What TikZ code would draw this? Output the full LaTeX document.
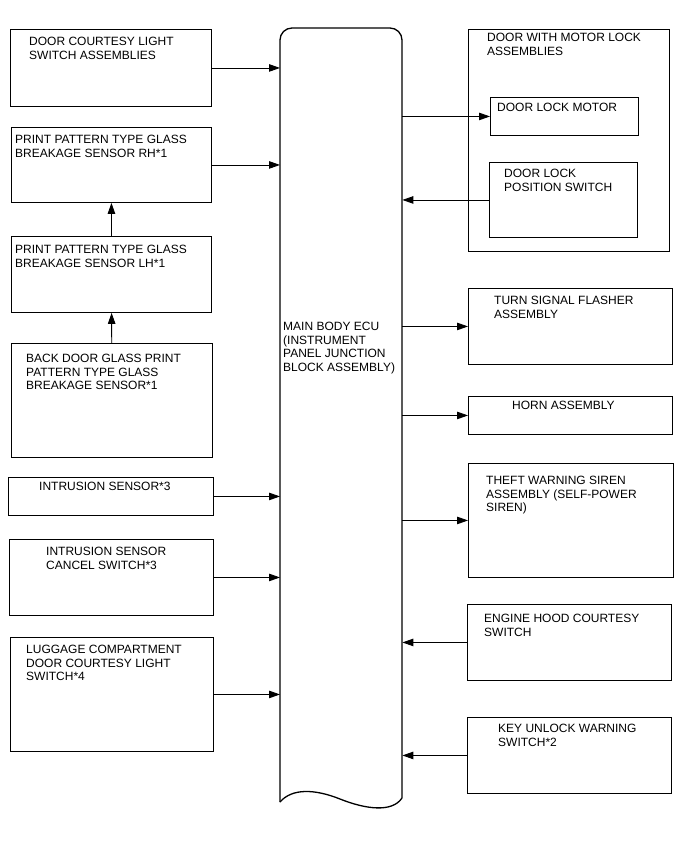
\documentclass[tikz,border=0pt]{standalone}
\usepackage{fontspec}
\setmainfont{Liberation Sans}
\usetikzlibrary{arrows.meta}

\begin{document}
\begin{tikzpicture}[
    x=1pt, y=-1pt,
    unit/.style={
        draw,
        line width=0.9pt,
        rectangle,
        anchor=north west,
        inner sep=0pt
    },
    caption/.style={
        anchor=north west,
        inner sep=0pt,
        align=left,
        font=\fontsize{12}{13.5}\selectfont
    },
    link/.style={
        -{Triangle[length=11pt,width=7.5pt]},
        line width=0.9pt
    }
]

    \useasboundingbox (0,0) rectangle (688,852);

    % left column
    \node[unit, minimum width=201, minimum height=77] (dcl) at (10,29) {};
    \node[caption] at (29,37) {DOOR COURTESY LIGHT\\SWITCH ASSEMBLIES};

    \node[unit, minimum width=200, minimum height=75] (rh) at (11,127) {};
    \node[caption] at (15,135) {PRINT PATTERN TYPE GLASS\\BREAKAGE SENSOR RH*1};

    \node[unit, minimum width=200, minimum height=76] (lh) at (11,236) {};
    \node[caption] at (15,245) {PRINT PATTERN TYPE GLASS\\BREAKAGE SENSOR LH*1};

    \node[unit, minimum width=201, minimum height=114] (back) at (11,343) {};
    \node[caption] at (26,354) {BACK DOOR GLASS PRINT\\PATTERN TYPE GLASS\\BREAKAGE SENSOR*1};

    \node[unit, minimum width=205, minimum height=38] (intr) at (8,477) {};
    \node[caption] at (39,482) {INTRUSION SENSOR*3};

    \node[unit, minimum width=204, minimum height=76] (cancel) at (9,539) {};
    \node[caption] at (46,547) {INTRUSION SENSOR\\CANCEL SWITCH*3};

    \node[unit, minimum width=203, minimum height=114] (lug) at (10,637) {};
    \node[caption] at (26,645) {LUGGAGE COMPARTMENT\\DOOR COURTESY LIGHT\\SWITCH*4};

    % main body ECU
    \node[minimum width=122, minimum height=773, inner sep=0pt, anchor=north west] (ecu) at (280,28) {};
    \draw[line width=1.3pt, rounded corners=12pt] (280,802) -- (280,28) -- (402,28) -- (402,798);
    \draw[line width=1.3pt] (280,802) .. controls (292,788) and (315,789) .. (340,799)
        .. controls (365,809) and (392,813) .. (402,798);
    \node[caption] at (283,322) {MAIN BODY ECU\\(INSTRUMENT\\PANEL JUNCTION\\BLOCK ASSEMBLY)};

    % right column
    \node[unit, minimum width=201, minimum height=222] (dwm) at (468,29) {};
    \node[caption] at (487,33) {DOOR WITH MOTOR LOCK\\ASSEMBLIES};

    \node[unit, minimum width=148, minimum height=38] (motor) at (490,97) {};
    \node[caption] at (497,103) {DOOR LOCK MOTOR};

    \node[unit, minimum width=148, minimum height=75] (pos) at (489,162) {};
    \node[caption] at (504,169) {DOOR LOCK\\POSITION SWITCH};

    \node[unit, minimum width=204, minimum height=76] (turn) at (468,288) {};
    \node[caption] at (494,296) {TURN SIGNAL FLASHER\\ASSEMBLY};

    \node[unit, minimum width=204, minimum height=38] (horn) at (468,396) {};
    \node[caption] at (512,401) {HORN ASSEMBLY};

    \node[unit, minimum width=205, minimum height=114] (theft) at (468,463) {};
    \node[caption] at (486,476) {THEFT WARNING SIREN\\ASSEMBLY (SELF-POWER\\SIREN)};

    \node[unit, minimum width=204, minimum height=76] (hood) at (467,604) {};
    \node[caption] at (484,614) {ENGINE HOOD COURTESY\\SWITCH};

    \node[unit, minimum width=204, minimum height=76] (key) at (467,717) {};
    \node[caption] at (498,724) {KEY UNLOCK WARNING\\SWITCH*2};

    % connections
    \draw[link] (lh) -- (rh);
    \draw[link] (back) -- (lh);

    \draw[link] (dcl.east) -- (dcl.east -| ecu.west);
    \draw[link] (rh.east) -- (rh.east -| ecu.west);
    \draw[link] (intr.east) -- (intr.east -| ecu.west);
    \draw[link] (cancel.east) -- (cancel.east -| ecu.west);
    \draw[link] (lug.east) -- (lug.east -| ecu.west);

    \draw[link] (motor.west -| ecu.east) -- (motor.west);
    \draw[link] (pos.west) -- (pos.west -| ecu.east);
    \draw[link] (turn.west -| ecu.east) -- (turn.west);
    \draw[link] (horn.west -| ecu.east) -- (horn.west);
    \draw[link] (theft.west -| ecu.east) -- (theft.west);
    \draw[link] (hood.west) -- (hood.west -| ecu.east);
    \draw[link] (key.west) -- (key.west -| ecu.east);

\end{tikzpicture}
\end{document}
